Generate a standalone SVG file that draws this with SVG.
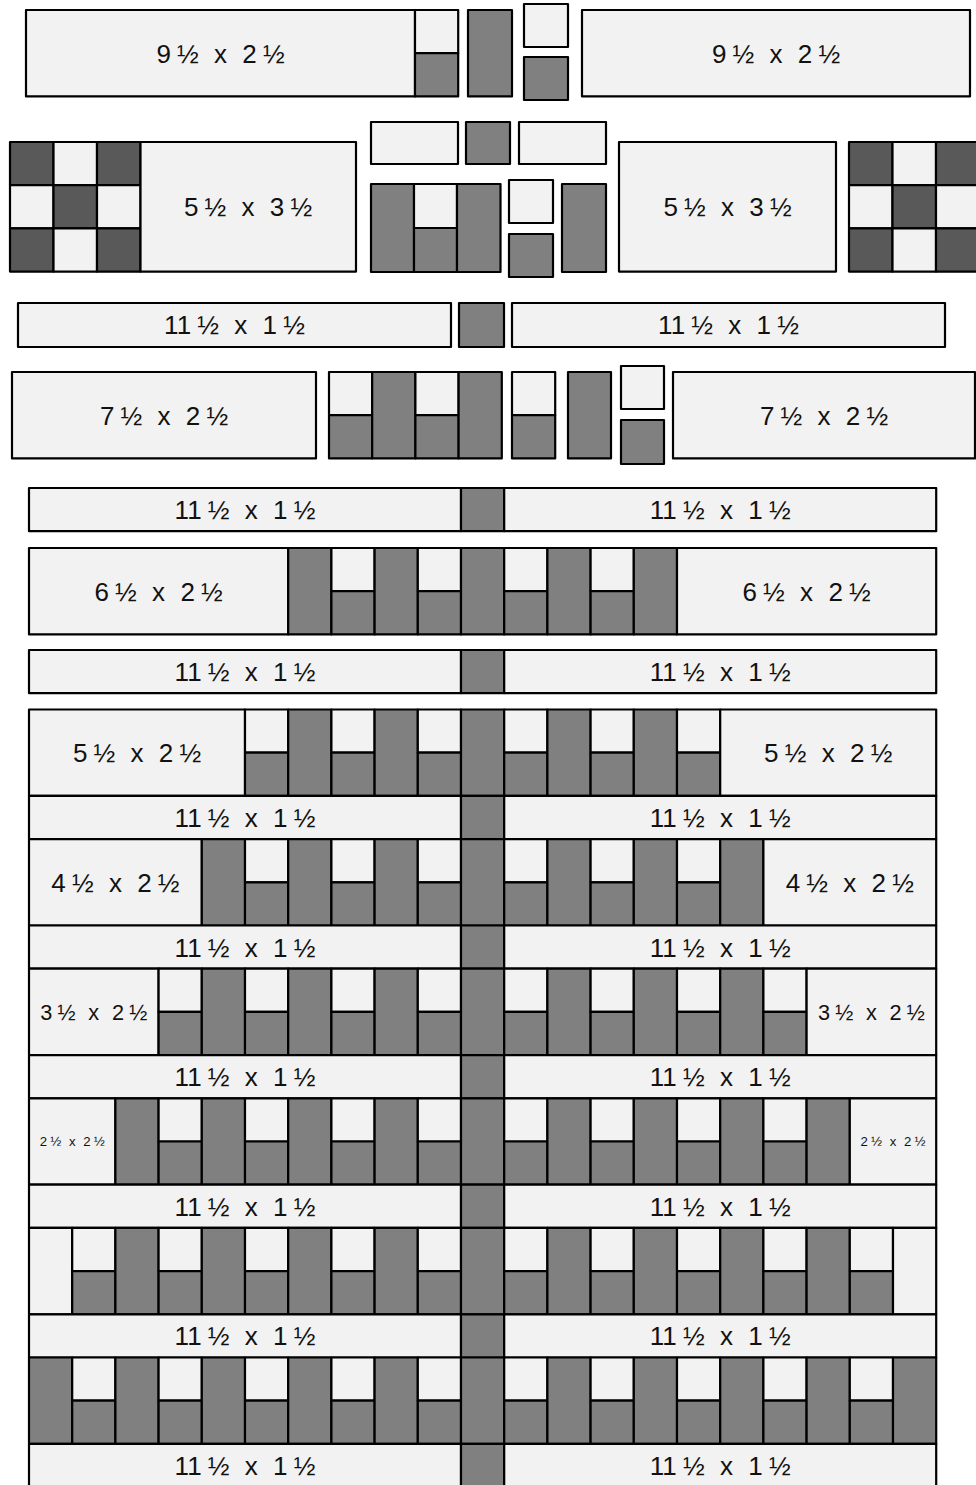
<svg xmlns="http://www.w3.org/2000/svg" width="976" height="1485" viewBox="0 0 976 1485">
<style>
.l{fill:#f2f2f2;stroke:#000;stroke-width:2.2;stroke-linejoin:round}
.g{fill:#808080;stroke:#000;stroke-width:2.2;stroke-linejoin:round}
.d{fill:#595959;stroke:#000;stroke-width:2.2;stroke-linejoin:round}
.t{font-family:"Liberation Sans",Arial,Helvetica,sans-serif;font-size:26px;word-spacing:-0.04em;text-anchor:middle;fill:#111}
.w{word-spacing:0.31em}
.t20{font-size:21.7px}
.t12{font-size:13.2px}
</style>
<defs>
<g id="S"><rect class="l" x="0" y="0" width="43.2" height="43.2"/><rect class="g" x="0" y="43.2" width="43.2" height="43.2"/></g>
<rect id="T" class="g" x="0" y="0" width="43.2" height="86.4"/>
<g id="NP">
<rect class="d" x="0" y="0" width="43.5" height="43.2"/><rect class="l" x="43.5" y="0" width="43.5" height="43.2"/><rect class="d" x="87" y="0" width="43.5" height="43.2"/>
<rect class="l" x="0" y="43.2" width="43.5" height="43.2"/><rect class="d" x="43.5" y="43.2" width="43.5" height="43.2"/><rect class="l" x="87" y="43.2" width="43.5" height="43.2"/>
<rect class="d" x="0" y="86.4" width="43.5" height="43.2"/><rect class="l" x="43.5" y="86.4" width="43.5" height="43.2"/><rect class="d" x="87" y="86.4" width="43.5" height="43.2"/>
</g>
<g id="SASH">
<rect class="l" x="29" y="0" width="432" height="43.2"/>
<rect class="g" x="461" y="0" width="43.2" height="43.2"/>
<rect class="l" x="504.2" y="0" width="432" height="43.2"/>
<text class="t" x="245" y="31">11 ½<tspan class="w"> x </tspan>1 ½</text>
<text class="t" x="720.2" y="31">11 ½<tspan class="w"> x </tspan>1 ½</text>
</g>
</defs>
<rect width="976" height="1485" fill="#fff"/>

<g id="row1">
<rect class="l" x="26" y="10" width="389" height="86.4"/>
<text class="t" x="220.5" y="62.5">9 ½<tspan class="w"> x </tspan>2 ½</text>
<use href="#S" x="415" y="10"/>
<rect class="g" x="468" y="10" width="44" height="86.4"/>
<rect class="l" x="524" y="4" width="44" height="43"/>
<rect class="g" x="524" y="57" width="44" height="43"/>
<rect class="l" x="582" y="10" width="388" height="86.4"/>
<text class="t" x="776" y="62.5">9 ½<tspan class="w"> x </tspan>2 ½</text>
</g>

<g id="row2">
<use href="#NP" x="10" y="142"/>
<rect class="l" x="140.5" y="142" width="215.5" height="129.6"/>
<text class="t" x="248" y="216">5 ½<tspan class="w"> x </tspan>3 ½</text>
<rect class="l" x="371" y="122" width="87" height="42"/>
<rect class="g" x="466" y="122" width="44" height="42"/>
<rect class="l" x="519" y="122" width="87" height="42"/>
<rect class="g" x="371" y="184" width="43" height="88"/>
<rect class="l" x="414" y="184" width="43" height="44"/>
<rect class="g" x="414" y="228" width="43" height="44"/>
<rect class="g" x="457" y="184" width="43.5" height="88"/>
<rect class="l" x="509" y="180" width="44" height="43"/>
<rect class="g" x="509" y="234" width="44" height="43"/>
<rect class="g" x="562" y="184" width="44" height="88"/>
<rect class="l" x="619" y="142" width="217" height="129.6"/>
<text class="t" x="727.5" y="216">5 ½<tspan class="w"> x </tspan>3 ½</text>
<use href="#NP" x="849" y="142"/>
</g>

<g id="row3">
<rect class="l" x="18" y="303" width="433" height="44"/>
<text class="t" x="234.5" y="334.3">11 ½<tspan class="w"> x </tspan>1 ½</text>
<rect class="g" x="459" y="303" width="45" height="44"/>
<rect class="l" x="512" y="303" width="433" height="44"/>
<text class="t" x="728.5" y="334.3">11 ½<tspan class="w"> x </tspan>1 ½</text>
</g>

<g id="row4">
<rect class="l" x="12" y="372" width="304" height="86.4"/>
<text class="t" x="164" y="424.5">7 ½<tspan class="w"> x </tspan>2 ½</text>
<use href="#S" x="329" y="372"/>
<use href="#T" x="372.2" y="372"/>
<use href="#S" x="415.4" y="372"/>
<use href="#T" x="458.6" y="372"/>
<use href="#S" x="512" y="372"/>
<rect class="g" x="568" y="372" width="43" height="86.4"/>
<rect class="l" x="621" y="366" width="43" height="43"/>
<rect class="g" x="621" y="420" width="43" height="44"/>
<rect class="l" x="673" y="372" width="302" height="86.4"/>
<text class="t" x="824" y="424.5">7 ½<tspan class="w"> x </tspan>2 ½</text>
</g>

<g id="sashA"><use href="#SASH" x="0" y="488"/></g>

<g id="rowB">
<rect class="l" x="29" y="548" width="259.2" height="86.4"/>
<text class="t" x="158.6" y="600.5">6 ½<tspan class="w"> x </tspan>2 ½</text>
<use href="#T" x="288.2" y="548"/>
<use href="#S" x="331.4" y="548"/>
<use href="#T" x="374.6" y="548"/>
<use href="#S" x="417.8" y="548"/>
<use href="#T" x="461" y="548"/>
<use href="#S" x="504.2" y="548"/>
<use href="#T" x="547.4" y="548"/>
<use href="#S" x="590.6" y="548"/>
<use href="#T" x="633.8" y="548"/>
<rect class="l" x="677" y="548" width="259.2" height="86.4"/>
<text class="t" x="806.6" y="600.5">6 ½<tspan class="w"> x </tspan>2 ½</text>
</g>

<g id="sashC"><use href="#SASH" x="0" y="650"/></g>

<g id="blockR1">
<rect class="l" x="29" y="709.5" width="216" height="86.4"/>
<text class="t" x="137" y="762">5 ½<tspan class="w"> x </tspan>2 ½</text>
<use href="#S" x="245" y="709.5"/>
<use href="#T" x="288.2" y="709.5"/>
<use href="#S" x="331.4" y="709.5"/>
<use href="#T" x="374.6" y="709.5"/>
<use href="#S" x="417.8" y="709.5"/>
<use href="#T" x="461" y="709.5"/>
<use href="#S" x="504.2" y="709.5"/>
<use href="#T" x="547.4" y="709.5"/>
<use href="#S" x="590.6" y="709.5"/>
<use href="#T" x="633.8" y="709.5"/>
<use href="#S" x="677" y="709.5"/>
<rect class="l" x="720.2" y="709.5" width="216" height="86.4"/>
<text class="t" x="828.2" y="762">5 ½<tspan class="w"> x </tspan>2 ½</text>
</g>

<g id="sash1"><use href="#SASH" x="0" y="795.9"/></g>

<g id="blockR2">
<rect class="l" x="29" y="839.1" width="172.8" height="86.4"/>
<text class="t" x="115.4" y="891.6">4 ½<tspan class="w"> x </tspan>2 ½</text>
<use href="#T" x="201.8" y="839.1"/>
<use href="#S" x="245" y="839.1"/>
<use href="#T" x="288.2" y="839.1"/>
<use href="#S" x="331.4" y="839.1"/>
<use href="#T" x="374.6" y="839.1"/>
<use href="#S" x="417.8" y="839.1"/>
<use href="#T" x="461" y="839.1"/>
<use href="#S" x="504.2" y="839.1"/>
<use href="#T" x="547.4" y="839.1"/>
<use href="#S" x="590.6" y="839.1"/>
<use href="#T" x="633.8" y="839.1"/>
<use href="#S" x="677" y="839.1"/>
<use href="#T" x="720.2" y="839.1"/>
<rect class="l" x="763.4" y="839.1" width="172.8" height="86.4"/>
<text class="t" x="849.8" y="891.6">4 ½<tspan class="w"> x </tspan>2 ½</text>
</g>

<g id="sash2"><use href="#SASH" x="0" y="925.5"/></g>

<g id="blockR3">
<rect class="l" x="29" y="968.7" width="129.6" height="86.4"/>
<text class="t t20" x="93.8" y="1019.7">3 ½<tspan class="w"> x </tspan>2 ½</text>
<use href="#S" x="158.6" y="968.7"/>
<use href="#T" x="201.8" y="968.7"/>
<use href="#S" x="245" y="968.7"/>
<use href="#T" x="288.2" y="968.7"/>
<use href="#S" x="331.4" y="968.7"/>
<use href="#T" x="374.6" y="968.7"/>
<use href="#S" x="417.8" y="968.7"/>
<use href="#T" x="461" y="968.7"/>
<use href="#S" x="504.2" y="968.7"/>
<use href="#T" x="547.4" y="968.7"/>
<use href="#S" x="590.6" y="968.7"/>
<use href="#T" x="633.8" y="968.7"/>
<use href="#S" x="677" y="968.7"/>
<use href="#T" x="720.2" y="968.7"/>
<use href="#S" x="763.4" y="968.7"/>
<rect class="l" x="806.6" y="968.7" width="129.6" height="86.4"/>
<text class="t t20" x="871.4" y="1019.7">3 ½<tspan class="w"> x </tspan>2 ½</text>
</g>

<g id="sash3"><use href="#SASH" x="0" y="1055.1"/></g>

<g id="blockR4">
<rect class="l" x="29" y="1098.3" width="86.4" height="86.4"/>
<text class="t t12" x="72.2" y="1146.2">2 ½<tspan class="w"> x </tspan>2 ½</text>
<use href="#T" x="115.4" y="1098.3"/>
<use href="#S" x="158.6" y="1098.3"/>
<use href="#T" x="201.8" y="1098.3"/>
<use href="#S" x="245" y="1098.3"/>
<use href="#T" x="288.2" y="1098.3"/>
<use href="#S" x="331.4" y="1098.3"/>
<use href="#T" x="374.6" y="1098.3"/>
<use href="#S" x="417.8" y="1098.3"/>
<use href="#T" x="461" y="1098.3"/>
<use href="#S" x="504.2" y="1098.3"/>
<use href="#T" x="547.4" y="1098.3"/>
<use href="#S" x="590.6" y="1098.3"/>
<use href="#T" x="633.8" y="1098.3"/>
<use href="#S" x="677" y="1098.3"/>
<use href="#T" x="720.2" y="1098.3"/>
<use href="#S" x="763.4" y="1098.3"/>
<use href="#T" x="806.6" y="1098.3"/>
<rect class="l" x="849.8" y="1098.3" width="86.4" height="86.4"/>
<text class="t t12" x="893" y="1146.2">2 ½<tspan class="w"> x </tspan>2 ½</text>
</g>

<g id="sash4"><use href="#SASH" x="0" y="1184.7"/></g>

<g id="blockR5">
<rect class="l" x="29" y="1227.9" width="43.2" height="86.4"/>
<use href="#S" x="72.2" y="1227.9"/>
<use href="#T" x="115.4" y="1227.9"/>
<use href="#S" x="158.6" y="1227.9"/>
<use href="#T" x="201.8" y="1227.9"/>
<use href="#S" x="245" y="1227.9"/>
<use href="#T" x="288.2" y="1227.9"/>
<use href="#S" x="331.4" y="1227.9"/>
<use href="#T" x="374.6" y="1227.9"/>
<use href="#S" x="417.8" y="1227.9"/>
<use href="#T" x="461" y="1227.9"/>
<use href="#S" x="504.2" y="1227.9"/>
<use href="#T" x="547.4" y="1227.9"/>
<use href="#S" x="590.6" y="1227.9"/>
<use href="#T" x="633.8" y="1227.9"/>
<use href="#S" x="677" y="1227.9"/>
<use href="#T" x="720.2" y="1227.9"/>
<use href="#S" x="763.4" y="1227.9"/>
<use href="#T" x="806.6" y="1227.9"/>
<use href="#S" x="849.8" y="1227.9"/>
<rect class="l" x="893" y="1227.9" width="43.2" height="86.4"/>
</g>

<g id="sash5"><use href="#SASH" x="0" y="1314.3"/></g>

<g id="blockR6">
<use href="#T" x="29" y="1357.5"/>
<use href="#S" x="72.2" y="1357.5"/>
<use href="#T" x="115.4" y="1357.5"/>
<use href="#S" x="158.6" y="1357.5"/>
<use href="#T" x="201.8" y="1357.5"/>
<use href="#S" x="245" y="1357.5"/>
<use href="#T" x="288.2" y="1357.5"/>
<use href="#S" x="331.4" y="1357.5"/>
<use href="#T" x="374.6" y="1357.5"/>
<use href="#S" x="417.8" y="1357.5"/>
<use href="#T" x="461" y="1357.5"/>
<use href="#S" x="504.2" y="1357.5"/>
<use href="#T" x="547.4" y="1357.5"/>
<use href="#S" x="590.6" y="1357.5"/>
<use href="#T" x="633.8" y="1357.5"/>
<use href="#S" x="677" y="1357.5"/>
<use href="#T" x="720.2" y="1357.5"/>
<use href="#S" x="763.4" y="1357.5"/>
<use href="#T" x="806.6" y="1357.5"/>
<use href="#S" x="849.8" y="1357.5"/>
<use href="#T" x="893" y="1357.5"/>
</g>

<g id="sash6"><use href="#SASH" x="0" y="1443.9"/></g>
</svg>
